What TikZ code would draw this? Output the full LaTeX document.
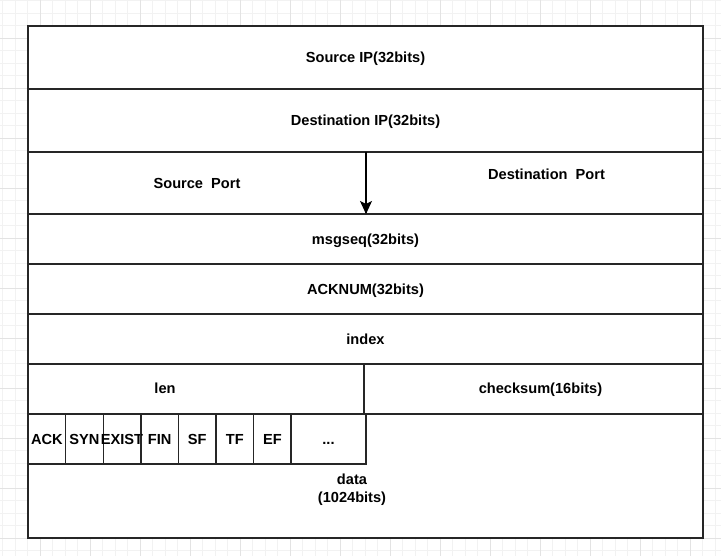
\documentclass[tikz,border=0pt]{standalone}
\usepackage{fontspec}
\setmainfont{Liberation Sans}
\usetikzlibrary{arrows.meta}
\tikzset{
  celltext/.style={text height=15pt,text depth=4pt,inner sep=0pt},
  cell/.style={draw=black!85,line width=1.2pt,rectangle,anchor=north west,
    outer sep=0pt,celltext},
  flagcell/.style={cell,minimum width=37.7pt,minimum height=50pt},
}
\begin{document}
\begin{tikzpicture}[x=1pt,y=-1pt,font=\fontsize{14.6}{18}\selectfont\bfseries]
  \definecolor{gridminor}{gray}{0.95}
  \definecolor{gridmajor}{gray}{0.89}
  \useasboundingbox (0,0) rectangle (721,556);
  %% canvas grid behind the frame
  \foreach \gx in {2.5,15,...,720} \draw[gridminor,line width=0.6pt] (\gx,0) -- (\gx,556);
  \foreach \gy in {0.5,13,...,556} \draw[gridminor,line width=0.6pt] (0,\gy) -- (721,\gy);
  \foreach \gx in {40,90,...,700} \draw[gridmajor,line width=0.6pt] (\gx,0) -- (\gx,556);
  \foreach \gy in {38,88,...,540} \draw[gridmajor,line width=0.6pt] (0,\gy) -- (721,\gy);

  %% full-width rows
  \node[cell,fill=white,minimum width=675pt,minimum height=63pt] (srcip) at (28,26) {Source IP(32bits)};
  \node[cell,fill=white,minimum width=675pt,minimum height=63pt] (dstip) at (28,89) {Destination IP(32bits)};
  \node[cell,fill=white,minimum width=338pt,minimum height=62pt] (srcport) at (28,152) {Source\ \ Port};
  \node[cell,fill=white,minimum width=337pt,minimum height=62pt] (dstport) at (366,152) {};
  \node[celltext] (dstporttext) at (546.5,174) {Destination\ \ Port};
  \node[cell,fill=white,minimum width=675pt,minimum height=50pt] (seq) at (28,214) {msgseq(32bits)};
  \node[cell,fill=white,minimum width=675pt,minimum height=50pt] (acknum) at (28,264) {ACKNUM(32bits)};
  \node[cell,fill=white,minimum width=675pt,minimum height=50pt] (index) at (28,314) {index};
  \node[cell,fill=white,minimum width=337pt,minimum height=50pt] (len) at (28,364) {};
  \node[celltext] (lentext) at (165,388.5) {len};
  \node[cell,fill=white,minimum width=339pt,minimum height=50pt] (checksum) at (364,364) {};
  \node[celltext] (checksumtext) at (540.5,388.5) {checksum(16bits)};
  \node[cell,fill=white,minimum width=675pt,minimum height=124pt] (data) at (28,414) {};
  \node[align=center,inner sep=0pt] (datatext) at (352,489.5) {data\\(1024bits)};

  %% flag bits along the top of the data block
  \foreach \flag [count=\i from 0] in {ACK,SYN,EXIST,FIN,SF,TF,EF}
    \node[flagcell,label={[celltext]center:\flag}] (flag\i) at (28+37.6*\i,414) {};
  \node[cell,minimum width=75pt,minimum height=50pt] (more) at (291,414) {...};

  \draw[-{Stealth[length=13pt,width=12pt,inset=3pt]},line width=1.2pt] (srcport.north east) -- (srcport.south east);
\end{tikzpicture}
\end{document}
